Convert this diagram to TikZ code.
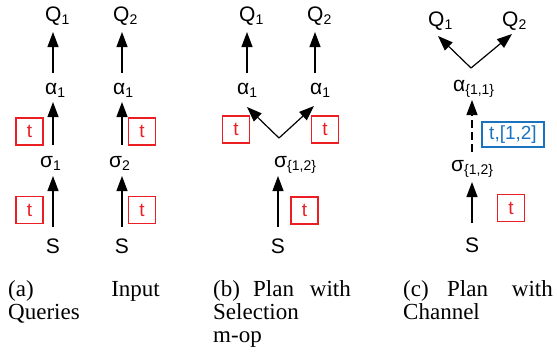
\documentclass[tikz,border=0pt]{standalone}
\usepackage{fontspec}
\setmainfont{Liberation Serif}
\newfontfamily\labfont{Liberation Sans}
\usetikzlibrary{arrows.meta,calc}
\definecolor{tred}{RGB}{235,30,35}
\definecolor{tblue}{RGB}{25,115,190}
\newcommand\lsub[1]{\raisebox{-3pt}{\fontsize{14}{14}\selectfont #1}}
\begin{document}
\begin{tikzpicture}[x=1pt,y=-1pt,
  lbl/.style={font=\labfont\fontsize{21}{21}\selectfont, inner sep=0pt, anchor=base west},
  sl/.style={font=\labfont\fontsize{21}{21}\selectfont, inner sep=0pt, anchor=base},
  arr/.style={line width=1.2pt, -{Triangle[length=15pt,width=11pt]}},
  tbox/.style={draw=tred, line width=1.3pt, text=tred, font=\labfont\fontsize{19}{19}\selectfont,
    minimum width=27pt, minimum height=27pt, inner sep=0pt},
  bbox/.style={draw=tblue, line width=1.3pt, text=tblue, font=\labfont\fontsize{19}{19}\selectfont,
    minimum width=62pt, minimum height=25pt, inner sep=0pt},
  captext/.style={font=\fontsize{23}{23}\selectfont, inner sep=0pt}]
\useasboundingbox (0,0) rectangle (557,354);

% ---------- panel (a) ----------
\node[lbl] (q1a) at (45,21) {Q\lsub{1}};
\node[lbl] (q2a) at (113,21) {Q\lsub{2}};
\node[lbl] (a1a) at (45,94) {α\lsub{1}};
\node[lbl] (a2a) at (113,94) {α\lsub{1}};
\node[lbl] (g1a) at (40,167) {σ\lsub{1}};
\node[lbl] (g2a) at (109,167) {σ\lsub{2}};
\node[sl] (s1a) at (53,253) {S};
\node[sl] (s2a) at (122,253) {S};

\draw[arr] ($(s1a.base)+(0,-26)$) -- ($(g1a.base west)+(13,9)$);
\draw[arr] ($(g1a.base west)+(13,-22)$) -- ($(a1a.base west)+(8,8)$);
\draw[arr] ($(a1a.base west)+(8,-21)$) -- ($(q1a.base west)+(8,11)$);
\draw[arr] ($(s2a.base)+(0,-26)$) -- ($(g2a.base west)+(13,9)$);
\draw[arr] ($(g2a.base west)+(13,-22)$) -- ($(a2a.base west)+(9,8)$);
\draw[arr] ($(a2a.base west)+(9,-21)$) -- ($(q2a.base west)+(9,11)$);

\node[tbox] (ta1) at (29.5,131.5) {t};
\node[tbox] (ta2) at (29.5,210) {t};
\node[tbox] (ta3) at (142,131.5) {t};
\node[tbox] (ta4) at (142,210) {t};

% ---------- panel (b) ----------
\node[lbl] (q1b) at (239,21) {Q\lsub{1}};
\node[lbl] (q2b) at (307,21) {Q\lsub{2}};
\node[lbl] (a1b) at (237,94) {α\lsub{1}};
\node[lbl] (a2b) at (310,94) {α\lsub{1}};
\node[lbl] (gb) at (274,167) {σ\lsub{\{1,2\}}};
\node[sl] (sb) at (278,253) {S};

\draw[arr] ($(sb.base)+(0,-26)$) -- ($(gb.base west)+(4,9)$);
\coordinate (vb) at ($(gb.base west)+(5,-29)$);
\draw[arr] (vb) -- ($(a1b.base west)+(10,13)$);
\draw[arr] (vb) -- ($(a2b.base west)+(4,12)$);
\draw[arr] ($(a1b.base west)+(10,-21)$) -- ($(q1b.base west)+(8,11)$);
\draw[arr] ($(a2b.base west)+(5,-21)$) -- ($(q2b.base west)+(8,11)$);

\node[tbox] (tb1) at (236,129.5) {t};
\node[tbox] (tb2) at (325,129.5) {t};
\node[tbox] (tb3) at (304.5,210.5) {t};

% ---------- panel (c) ----------
\node[lbl] (q1c) at (428,26) {Q\lsub{1}};
\node[lbl] (q2c) at (502,26) {Q\lsub{2}};
\node[lbl] (ac) at (453,91) {α\lsub{\{1,1\}}};
\node[lbl] (gc) at (451,171) {σ\lsub{\{1,2\}}};
\node[sl] (sc) at (472,252) {S};

\draw[arr] ($(sc.base)+(0,-29)$) -- ($(gc.base west)+(21,11)$);
\draw[arr, dash pattern=on 8pt off 4pt] ($(gc.base west)+(21,-19)$) -- ($(ac.base west)+(19,9)$);
\coordinate (vc) at ($(ac.base west)+(18,-23)$);
\draw[arr] (vc) -- ($(q1c.base west)+(10,10)$);
\draw[arr] (vc) -- ($(q2c.base west)+(10,8)$);

\node[bbox] (tc1) at (513,134.5) {t,[1,2]};
\node[tbox] (tc2) at (511,208) {t};

% ---------- captions ----------
\node[captext, anchor=base west] (ca1) at (8,296) {(a)};
\node[captext, anchor=base east] (ca2) at (160,296) {Input};
\node[captext, anchor=base west] (ca3) at (8,319) {Queries};
\node[captext, anchor=base west] (cb1) at (213,296) {(b)};
\node[captext, anchor=base west] (cb2) at (253,296) {Plan};
\node[captext, anchor=base east] (cb3) at (351,296) {with};
\node[captext, anchor=base west] (cb4) at (213,319) {Selection};
\node[captext, anchor=base west] (cb5) at (213,342) {m-op};
\node[captext, anchor=base west] (cc1) at (403,296) {(c)};
\node[captext, anchor=base west] (cc2) at (447,296) {Plan};
\node[captext, anchor=base east] (cc3) at (553,296) {with};
\node[captext, anchor=base west] (cc4) at (403,319) {Channel};
\end{tikzpicture}
\end{document}
